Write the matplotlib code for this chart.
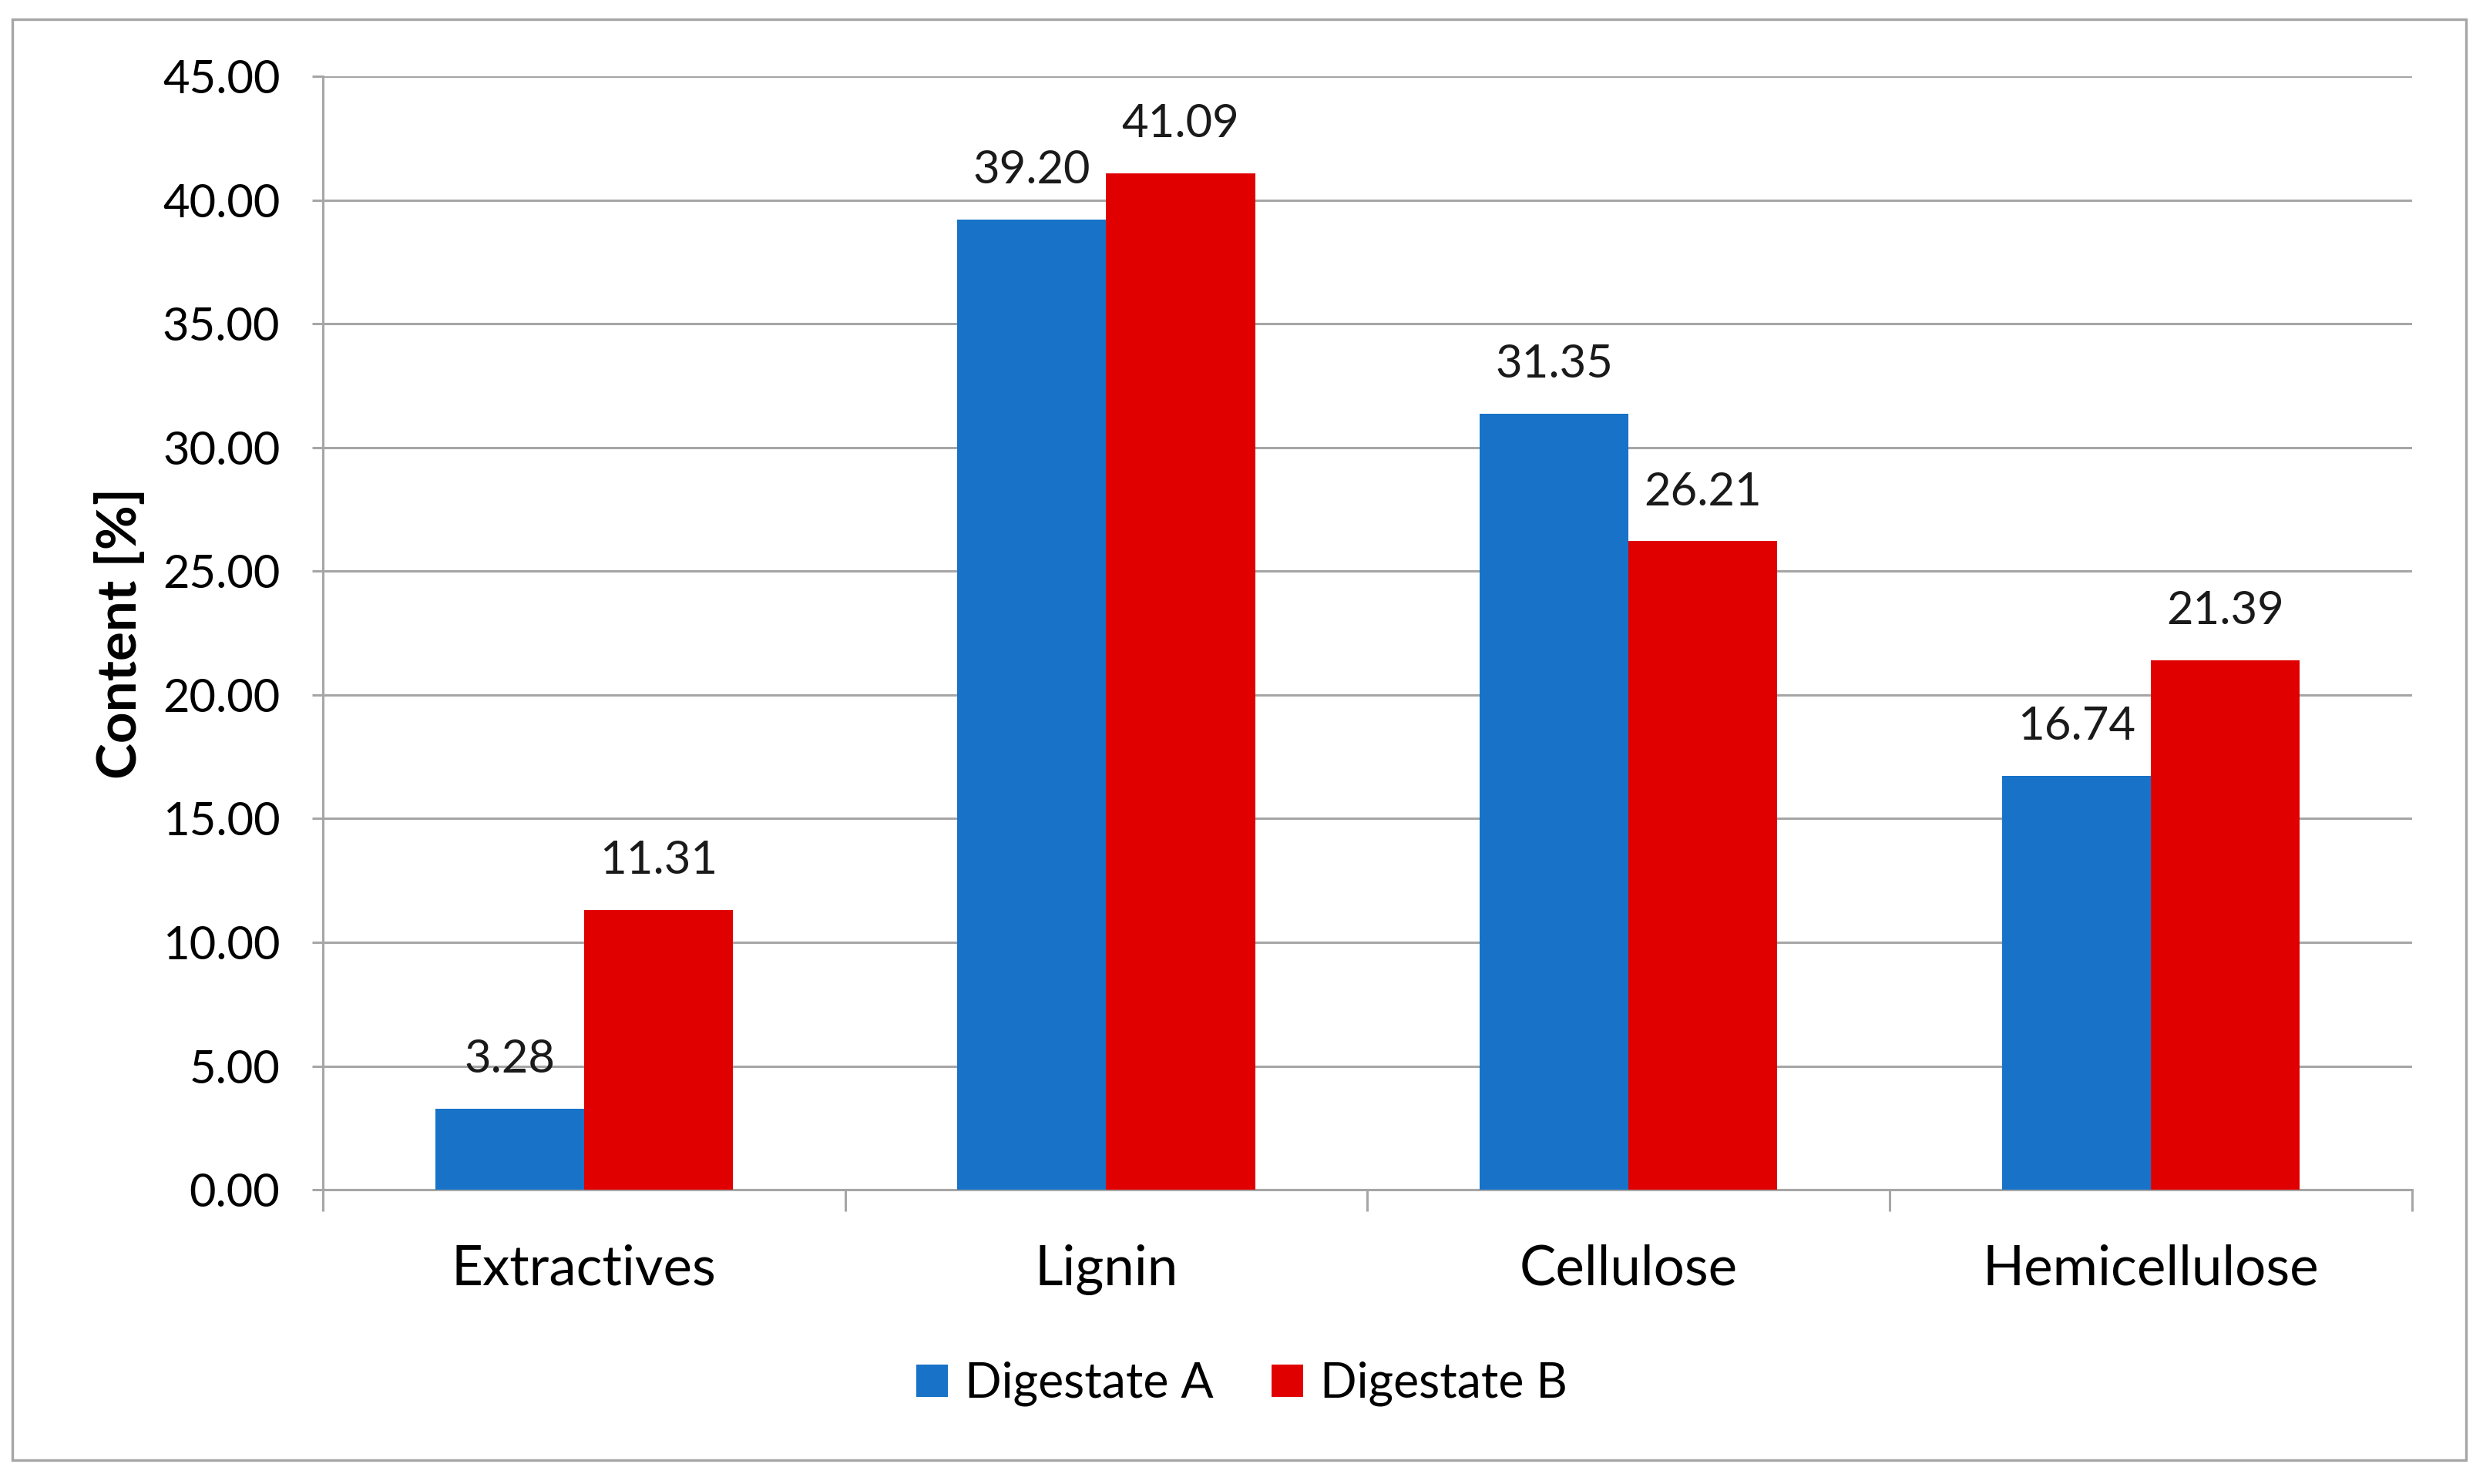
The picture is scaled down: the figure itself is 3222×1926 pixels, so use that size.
import numpy as np
import matplotlib.pyplot as plt
from matplotlib.patches import Rectangle

plt.rcParams['font.family'] = ['Lato', 'DejaVu Sans']

categories = ["Extractives", "Lignin", "Cellulose", "Hemicellulose"]
digestate_a = [3.28, 39.20, 31.35, 16.74]
digestate_b = [11.31, 41.09, 26.21, 21.39]
series_names = ["Digestate A", "Digestate B"]

blue = "#1772C8"
red = "#E00000"
grid_c = "#A6A6A6"

fig = plt.figure(figsize=(3223 / 200, 1926 / 200), dpi=200)
ax = fig.add_axes([0.130, 0.1983, 0.841, 0.7503])

x = np.arange(len(categories))
w = 0.285
bars_a = ax.bar(x - w / 2, digestate_a, w, color=blue, label=series_names[0], zorder=3)
bars_b = ax.bar(x + w / 2, digestate_b, w, color=red, label=series_names[1], zorder=3)

for bars, vals in [(bars_a, digestate_a), (bars_b, digestate_b)]:
    for b, v in zip(bars, vals):
        ax.annotate(f"{v:.2f}", (b.get_x() + b.get_width() / 2, v),
                    xytext=(0, 23), textcoords="offset points",
                    ha="center", va="center", fontsize=21.5, color="#1a1a1a")

ax.set_xlim(-0.5, len(categories) - 0.5)
ax.set_ylim(0, 45)
ax.set_yticks(np.arange(0, 45.01, 5))
ax.set_yticklabels([f"{v:.2f}" for v in np.arange(0, 45.01, 5)])
ax.yaxis.grid(True, color=grid_c, linewidth=1.1, zorder=0)

# category boundary ticks, labels at centers
ax.set_xticks(np.arange(-0.5, len(categories), 1))
ax.set_xticklabels([])
ax.set_xticks(x, minor=True)
ax.set_xticklabels(categories, minor=True)
ax.tick_params(axis="x", which="major", length=10, width=1.1, color=grid_c)
ax.tick_params(axis="x", which="minor", length=0, pad=25.5, labelsize=25.5)
ax.tick_params(axis="y", length=5, width=1.1, color=grid_c, pad=15, labelsize=21.5)

for s in ["top", "right"]:
    ax.spines[s].set_visible(False)
for s in ["left", "bottom"]:
    ax.spines[s].set_color(grid_c)
    ax.spines[s].set_linewidth(1.1)

ax.set_ylabel("Content [%]", fontsize=25.5, fontweight="bold")
ax.yaxis.set_label_coords(-0.085, 0.5)

fig.legend(loc="center", bbox_to_anchor=(0.5, 0.0675), ncol=2, frameon=False,
           fontsize=22.5, handlelength=0.65, handleheight=0.65, handletextpad=0.36,
           columnspacing=1.2)

fig.patches.append(Rectangle((16 / 3223, 1 - 1895 / 1926), 3184 / 3223, 1870 / 1926,
                             transform=fig.transFigure, fill=False,
                             edgecolor=grid_c, linewidth=1.2))

fig.savefig("out.png", dpi=200)
